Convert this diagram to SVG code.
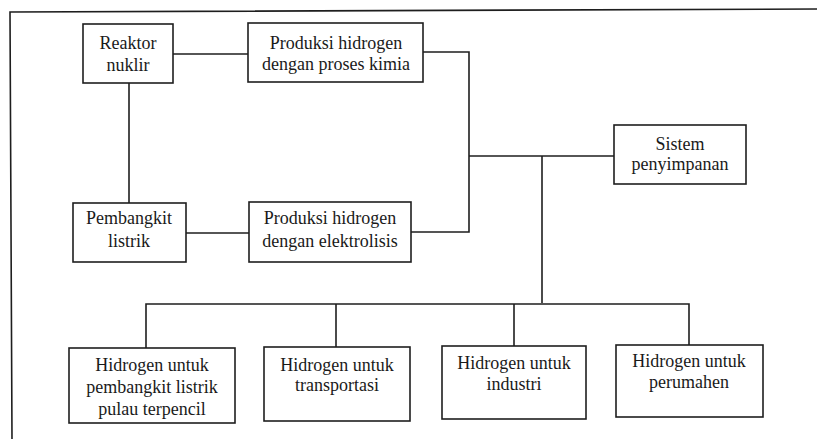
<svg xmlns="http://www.w3.org/2000/svg" width="817" height="439" viewBox="0 0 817 439">
<style>
.box{fill:#fff;stroke:#1e1e1e;stroke-width:1.6}
.ln{fill:none;stroke:#1e1e1e;stroke-width:1.6}
.t{font-family:'Liberation Serif','DejaVu Serif',serif;font-size:18px;fill:#1a1a1a;text-anchor:middle}
</style>
<rect width="817" height="439" fill="#fff"/>
<g id="frame"><path class="ln" d="M817,9 L10,12 L12,439"/></g>
<g id="connectors">
<path class="ln" d="M173,54 H248"/>
<path class="ln" d="M129,83 V203"/>
<path class="ln" d="M186,233 H249"/>
<path class="ln" d="M423,52 H469 V232 H411"/>
<path class="ln" d="M469,156 H614"/>
<path class="ln" d="M542,156 V303"/>
<path class="ln" d="M146,348 V304 H689 V345"/>
<path class="ln" d="M336,304 V347"/>
<path class="ln" d="M514,304 V346"/>
</g>
<g id="reaktor"><rect class="box" x="83" y="24" width="90" height="59"/><text class="t" x="128" y="49">Reaktor</text><text class="t" x="128" y="71">nuklir</text></g>
<g id="produksi-kimia"><rect class="box" x="248" y="23" width="175" height="59"/><text class="t" x="336" y="49">Produksi hidrogen</text><text class="t" x="336" y="70">dengan proses kimia</text></g>
<g id="pembangkit"><rect class="box" x="73" y="203" width="113" height="59"/><text class="t" x="129" y="224">Pembangkit</text><text class="t" x="129" y="247">listrik</text></g>
<g id="produksi-elektrolisis"><rect class="box" x="249" y="202" width="162" height="60"/><text class="t" x="330" y="224">Produksi hidrogen</text><text class="t" x="330" y="247">dengan elektrolisis</text></g>
<g id="sistem"><rect class="box" x="614" y="125" width="132" height="59"/><text class="t" x="680" y="150">Sistem</text><text class="t" x="680" y="170">penyimpanan</text></g>
<g id="h-listrik"><rect class="box" x="69" y="348" width="166" height="75"/><text class="t" x="152" y="371">Hidrogen untuk</text><text class="t" x="152" y="393">pembangkit listrik</text><text class="t" x="152" y="415">pulau terpencil</text></g>
<g id="h-transportasi"><rect class="box" x="264" y="347" width="146" height="74"/><text class="t" x="337" y="371">Hidrogen untuk</text><text class="t" x="337" y="391">transportasi</text></g>
<g id="h-industri"><rect class="box" x="442" y="346" width="144" height="73"/><text class="t" x="514" y="369">Hidrogen untuk</text><text class="t" x="514" y="390">industri</text></g>
<g id="h-perumahan"><rect class="box" x="616" y="345" width="147" height="72"/><text class="t" x="689" y="367">Hidrogen untuk</text><text class="t" x="689" y="388">perumahen</text></g>
</svg>
